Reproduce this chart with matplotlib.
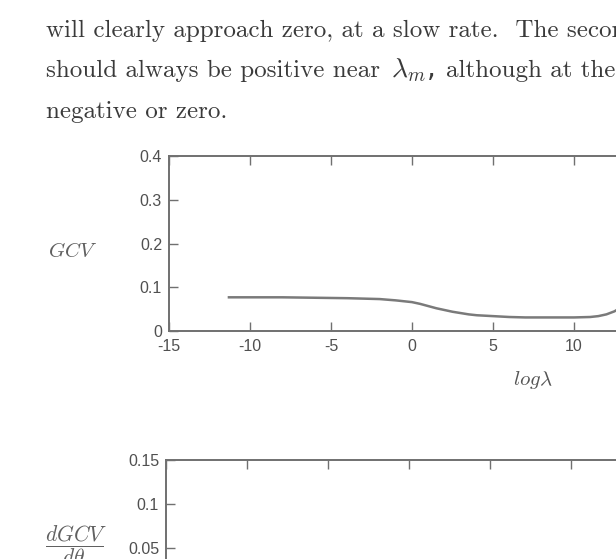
import matplotlib
matplotlib.use("Agg")
import matplotlib.pyplot as plt

plt.rcParams['mathtext.fontset'] = 'cm'

# page text above the figure (the page runs on past the right edge of the scan)
text_lines = [
    "will clearly approach zero, at a slow rate.  The second derivative",
    "should always be positive near",
    "negative or zero.",
]
line2_math = r"$\lambda_{m}$,"
line2_tail = "although at the extremes it may be"

# GCV curve
log_lambda = [-11.3, -8, -6, -4, -3, -2, -1, -0.5, 0, 0.5, 1, 1.5, 2, 2.5, 3, 3.5, 4, 4.5, 5,
              6, 7, 8, 9, 10, 11, 11.5, 12, 12.5, 13, 13.5]
gcv = [0.077, 0.077, 0.076, 0.075, 0.074, 0.073, 0.070, 0.068, 0.066, 0.062, 0.057, 0.052, 0.048,
       0.044, 0.041, 0.038, 0.036, 0.035, 0.034, 0.032, 0.031, 0.031, 0.031, 0.031, 0.032, 0.034,
       0.038, 0.045, 0.056, 0.07]

xticks = [-15, -10, -5, 0, 5, 10, 15, 20, 25, 30]
xtick_labels = ["-15", "-10", "-5", "0", "5", "10", "15", "20", "25", "30"]
top_yticks = [0, 0.1, 0.2, 0.3, 0.4]
top_ylabels = ["0", "0.1", "0.2", "0.3", "0.4"]
bot_yticks = [0, 0.05, 0.1, 0.15]
bot_ylabels = ["0", "0.05", "0.1", "0.15"]

W, H = 616, 559
fig = plt.figure(figsize=(W / 100, H / 100), dpi=100)

txt_col = "#3a3a3a"
ax_col = "#707070"
lab_col = "#505050"

baselines = [37.3, 77.3, 118.3]
for line, yb in zip(text_lines, baselines):
    fig.text(46 / W, 1 - yb / H, line, family="cmr10", fontsize=18,
             color=txt_col, va="baseline", ha="left")
# second line is justified, so its pieces are set where the scan has them
fig.text(391 / W, 1 - baselines[1] / H, line2_math, fontsize=20,
         color=txt_col, va="baseline", ha="left")
fig.text(446 / W, 1 - baselines[1] / H, line2_tail, family="cmr10", fontsize=18,
         color=txt_col, va="baseline", ha="left")

def style_axes(ax, yticks, ylabels):
    ax.set_xlim(-15, 30)
    ax.set_xticks(xticks)
    ax.set_xticklabels(xtick_labels)
    ax.set_yticks(yticks)
    ax.set_yticklabels(ylabels)
    for s in ax.spines.values():
        s.set_color(ax_col)
        s.set_linewidth(1.4)
    ax.tick_params(axis="both", direction="in", length=6.5, width=1.0, color=ax_col,
                   labelcolor=lab_col, labelsize=11.5)
    ax.tick_params(axis="x", top=True, pad=6)
    ax.tick_params(axis="y", pad=5)
    for lab in ax.get_xticklabels() + ax.get_yticklabels():
        lab.set_family("Liberation Sans")

# top panel: GCV
ax1 = fig.add_axes([169 / W, 1 - 331 / H, 729 / W, 175 / H])
ax1.plot(log_lambda, gcv, color="#7a7a7a", lw=1.8)
ax1.set_ylim(0, 0.4)
style_axes(ax1, top_yticks, top_ylabels)
ax1.set_ylabel("$GCV$", rotation=0, fontsize=15, color="#606060", va="center", ha="center")
ax1.yaxis.set_label_coords((72.5 - 169) / 729, (331 - 250.7) / 175)
ax1.set_xlabel(r"$log\lambda$", fontsize=15, color="#555555", va="center", ha="center")
ax1.xaxis.set_label_coords((533 - 169) / 729, -(380 - 331) / 175)

# bottom panel: dGCV/dtheta (only its top part is on the page crop)
ax2 = fig.add_axes([166 / W, 1 - 592.5 / H, 729 / W, 132.5 / H])
ax2.set_ylim(0, 0.15)
style_axes(ax2, bot_yticks, bot_ylabels)
ax2.set_ylabel(r"$\dfrac{dGCV}{d\theta}$", rotation=0, fontsize=15.5, color="#606060",
               va="center", ha="center")
ax2.yaxis.set_label_coords((76 - 166) / 729, (592.5 - 545) / 132.5)

fig.savefig("out.png", dpi=100)
